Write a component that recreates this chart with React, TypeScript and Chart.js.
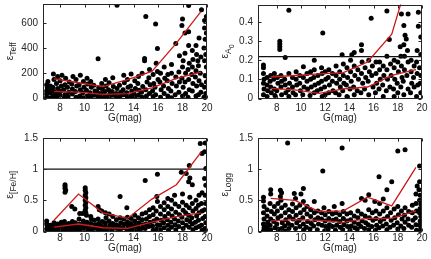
import React, { useEffect, useRef } from "react";
import { Chart, registerables } from "chart.js";
Chart.register(...registerables);

const FONT = '"Liberation Sans", Arial, Helvetica, sans-serif';
const AXIS_COLOR = "#262626";
const RED = "#cc1a1a";

const xTicks = [8, 10, 12, 14, 16, 18, 20];
const xTitle = "G(mag)";
const binCenters = [7.5, 9.5, 11.5, 13.5, 15.5, 17.5, 19.5];

// ---- Teff panel ----
const teffTicks = [0, 200, 400, 600];
const teffUpper = [155, 125, 95, 150, 215, 440, 690];
const teffLower = [55, 50, 32, 38, 85, 160, 210];
const teffPoints = [
  [6.9,10],[6.9,35],[6.9,60],[6.95,85],[6.9,110],[7.0,135],[7.2,5],[7.2,45],[7.25,75],[7.2,100],[7.45,20],[7.5,55],[7.4,90],[7.5,150],[7.45,195],[7.7,10],[7.75,40],[7.8,80],[7.7,120],[7.8,175],[8.0,25],[8.05,60],[8.1,100],[8.0,140],[8.15,185],[8.35,5],[8.4,30],[8.3,70],[8.4,110],[8.45,160],[8.65,15],[8.7,50],[8.6,90],[8.75,130],[9.0,35],[9.0,75],[8.95,115],[9.05,175],[9.3,10],[9.25,55],[9.35,100],[9.3,150],[9.6,20],[9.65,70],[9.55,110],[9.65,185],[9.9,5],[9.85,45],[9.95,90],[9.9,135],[10.2,20],[10.15,65],[10.25,115],[10.2,160],[10.5,10],[10.45,45],[10.55,90],[10.5,135],[10.8,25],[10.85,60],[10.75,105],[11.1,15],[11.05,50],[11.15,85],[11.1,315],[11.4,5],[11.35,40],[11.45,75],[11.4,120],[11.7,20],[11.65,55],[11.75,100],[11.7,150],[12.0,10],[12.05,35],[11.95,70],[12.0,125],[12.3,25],[12.25,55],[12.35,95],[12.3,165],[12.6,5],[12.6,40],[12.65,80],[12.65,740],[12.9,15],[12.95,50],[12.85,105],[13.2,30],[13.15,70],[13.25,125],[13.2,185],[13.5,10],[13.45,45],[13.55,90],[13.5,150],[13.8,20],[13.85,60],[13.75,100],[13.8,195],[14.1,5],[14.05,35],[14.15,80],[14.1,140],[14.4,25],[14.45,65],[14.35,120],[14.4,175],[14.7,10],[14.65,50],[14.75,95],[14.7,200],[14.9,300],[14.9,318],[15.0,650],[15.05,20],[15.0,70],[15.1,130],[15.3,40],[15.35,110],[15.25,165],[15.3,230],[15.6,15],[15.55,60],[15.65,120],[15.6,190],[15.8,592],[15.85,280],[15.8,30],[15.75,90],[15.95,397],[16.0,150],[15.95,215],[16.2,10],[16.25,70],[16.15,130],[16.2,200],[16.5,40],[16.45,100],[16.55,160],[16.5,250],[16.8,20],[16.85,80],[16.75,140],[16.8,190],[17.1,5],[17.05,60],[17.15,120],[17.1,200],[17.1,270],[17.45,437],[17.4,30],[17.5,100],[17.45,170],[17.7,50],[17.75,130],[17.7,210],[17.75,340],[18.0,630],[17.95,580],[18.0,20],[18.05,90],[17.95,160],[18.0,250],[18.05,300],[18.2,520],[18.25,40],[18.2,130],[18.25,200],[18.2,360],[18.5,738],[18.5,530],[18.45,10],[18.55,70],[18.5,150],[18.45,230],[18.55,280],[18.5,420],[18.8,380],[18.8,60],[18.85,120],[18.75,190],[18.8,250],[18.85,310],[19.1,420],[19.1,20],[19.15,100],[19.05,170],[19.1,220],[19.15,350],[19.3,30],[19.35,140],[19.3,260],[19.25,300],[19.35,480],[19.55,704],[19.5,50],[19.55,110],[19.45,200],[19.5,330],[19.8,620],[19.8,560],[19.85,470],[19.75,400],[19.8,300],[19.85,180],[19.8,90],[19.75,10],[19.95,650],[19.95,520],[19.9,350],[19.95,250],[19.95,130],[19.9,40]
];

// ---- A0 panel ----
const a0Ticks = [0, 0.1, 0.2, 0.3, 0.4];
const a0Threshold = 0.218;
const a0Upper = [0.112, 0.12, 0.128, 0.135, 0.19, 0.335, 0.76];
const a0Lower = [0.053, 0.045, 0.027, 0.05, 0.06, 0.12, 0.15];
const a0Points = [
  [6.9,0.175],[6.9,0.16],[6.9,0.13],[6.95,0.1],[6.9,0.08],[6.95,0.05],[6.9,0.02],[7.2,0.11],[7.2,0.07],[7.25,0.04],[7.2,0.01],[7.5,0.12],[7.45,0.09],[7.5,0.06],[7.55,0.03],[7.8,0.13],[7.75,0.1],[7.8,0.05],[7.85,0.015],[8.05,0.11],[8.1,0.08],[8.0,0.04],[8.25,0.298],[8.25,0.284],[8.25,0.27],[8.25,0.256],[8.35,0.12],[8.4,0.09],[8.35,0.06],[8.4,0.02],[8.7,0.214],[8.65,0.1],[8.7,0.07],[8.75,0.03],[9.0,0.46],[9.0,0.13],[9.05,0.08],[8.95,0.045],[9.0,0.01],[9.3,0.11],[9.3,0.06],[9.35,0.03],[9.6,0.14],[9.6,0.1],[9.65,0.07],[9.55,0.02],[9.9,0.12],[9.9,0.08],[9.95,0.04],[10.2,0.165],[10.2,0.11],[10.25,0.06],[10.15,0.02],[10.5,0.13],[10.5,0.09],[10.55,0.05],[10.8,0.14],[10.8,0.1],[10.85,0.06],[10.75,0.015],[11.1,0.2],[11.1,0.15],[11.05,0.11],[11.15,0.07],[11.1,0.03],[11.4,0.12],[11.45,0.08],[11.35,0.04],[11.7,0.16],[11.75,0.13],[11.7,0.09],[11.65,0.05],[11.75,0.01],[11.8,0.342],[12.0,0.14],[12.05,0.1],[11.95,0.06],[12.0,0.02],[12.3,0.15],[12.25,0.11],[12.35,0.07],[12.3,0.03],[12.6,0.13],[12.6,0.09],[12.65,0.04],[12.9,0.17],[12.9,0.12],[12.95,0.08],[12.85,0.03],[13.2,0.14],[13.2,0.1],[13.25,0.06],[13.15,0.02],[13.4,0.228],[13.5,0.18],[13.5,0.12],[13.55,0.08],[13.45,0.04],[13.8,0.16],[13.85,0.11],[13.75,0.07],[13.8,0.01],[14.2,0.228],[14.1,0.2],[14.1,0.14],[14.15,0.09],[14.05,0.05],[14.4,0.24],[14.4,0.17],[14.45,0.12],[14.35,0.06],[14.4,0.02],[14.7,0.15],[14.75,0.1],[14.65,0.04],[15.0,0.28],[15.0,0.25],[15.05,0.19],[15.0,0.13],[15.1,0.08],[14.95,0.03],[15.3,0.16],[15.35,0.11],[15.25,0.05],[15.6,0.2],[15.65,0.14],[15.55,0.09],[15.6,0.02],[15.8,0.418],[15.9,0.17],[15.85,0.12],[15.95,0.06],[16.2,0.19],[16.2,0.13],[16.25,0.08],[16.15,0.03],[16.5,0.19],[16.5,0.15],[16.55,0.1],[16.45,0.05],[16.8,0.17],[16.85,0.12],[16.75,0.07],[16.8,0.01],[17.3,0.307],[17.1,0.456],[17.1,0.22],[17.1,0.15],[17.15,0.1],[17.05,0.04],[17.4,0.18],[17.45,0.12],[17.35,0.06],[17.7,0.2],[17.7,0.16],[17.75,0.1],[17.65,0.05],[17.7,0.01],[18.2,0.27],[18.0,0.19],[18.05,0.14],[17.95,0.08],[18.0,0.03],[18.3,0.44],[18.25,0.22],[18.3,0.17],[18.35,0.11],[18.25,0.06],[18.85,0.44],[18.5,0.38],[18.6,0.33],[18.7,0.31],[18.5,0.28],[18.55,0.22],[18.55,0.15],[18.45,0.09],[18.5,0.02],[18.8,0.25],[18.85,0.19],[18.75,0.12],[18.85,0.05],[19.1,0.2],[19.1,0.14],[19.15,0.08],[19.05,0.03],[19.35,0.17],[19.3,0.11],[19.35,0.06],[19.7,0.45],[19.6,0.25],[19.55,0.19],[19.6,0.13],[19.65,0.07],[19.55,0.01],[19.7,0.377],[19.9,0.32],[19.9,0.23],[19.8,0.16],[19.9,0.12],[19.85,0.08],[19.9,0.03]
];

// ---- [Fe/H] panel ----
const halfTicks = [0, 0.5, 1, 1.5];
const fehThreshold = 1;
const fehUpper = [0.18, 0.6, 0.3, 0.21, 0.52, 0.75, 1.27];
const fehLower = [0.07, 0.12, 0.06, 0.05, 0.15, 0.24, 0.3];
const fehPoints = [
  [6.9,0.17],[6.9,0.12],[6.95,0.08],[6.9,0.04],[6.95,0.01],[7.2,0.1],[7.25,0.06],[7.2,0.02],[7.5,0.14],[7.45,0.09],[7.55,0.05],[7.5,0.01],[7.8,0.12],[7.75,0.07],[7.8,0.03],[8.1,0.15],[8.05,0.1],[8.1,0.05],[8.0,0.01],[8.4,0.75],[8.4,0.72],[8.4,0.69],[8.45,0.66],[8.4,0.63],[8.35,0.16],[8.4,0.11],[8.45,0.06],[8.4,0.02],[8.7,0.13],[8.75,0.08],[8.65,0.04],[8.95,0.4],[9.0,0.16],[9.0,0.11],[9.05,0.06],[8.95,0.02],[9.2,0.36],[9.25,0.14],[9.3,0.09],[9.3,0.04],[9.6,0.29],[9.55,0.2],[9.6,0.12],[9.65,0.07],[9.6,0.02],[9.85,0.29],[9.9,0.17],[9.9,0.1],[9.95,0.05],[10.05,0.7],[10.05,0.66],[10.1,0.62],[10.05,0.58],[10.1,0.54],[10.05,0.5],[10.1,0.46],[10.05,0.42],[10.1,0.38],[10.05,0.34],[10.1,0.3],[10.15,0.26],[10.2,0.15],[10.2,0.08],[10.25,0.03],[10.5,0.24],[10.55,0.2],[10.5,0.13],[10.45,0.07],[10.5,0.02],[10.8,0.18],[10.85,0.11],[10.75,0.05],[11.1,0.4],[11.2,0.35],[11.1,0.2],[11.15,0.13],[11.05,0.07],[11.1,0.02],[11.4,0.33],[11.45,0.16],[11.35,0.09],[11.4,0.04],[11.7,0.3],[11.75,0.22],[11.7,0.14],[11.65,0.08],[11.7,0.02],[12.0,0.28],[12.0,0.17],[12.05,0.1],[11.95,0.05],[12.3,0.24],[12.3,0.13],[12.35,0.07],[12.25,0.02],[12.6,0.19],[12.6,0.11],[12.65,0.05],[12.9,0.56],[12.9,0.22],[12.95,0.14],[12.85,0.08],[12.9,0.02],[13.2,0.2],[13.25,0.12],[13.15,0.06],[13.45,0.38],[13.5,0.23],[13.5,0.15],[13.55,0.09],[13.45,0.03],[13.8,0.21],[13.8,0.13],[13.85,0.07],[13.75,0.02],[14.1,0.26],[14.1,0.17],[14.15,0.1],[14.05,0.04],[14.4,0.22],[14.45,0.14],[14.35,0.07],[14.4,0.01],[14.7,0.28],[14.7,0.19],[14.75,0.11],[14.65,0.05],[14.95,0.82],[15.0,0.3],[15.05,0.2],[15.0,0.12],[14.95,0.05],[15.3,0.35],[15.3,0.24],[15.35,0.15],[15.25,0.08],[15.6,0.38],[15.6,0.27],[15.65,0.17],[15.55,0.09],[15.6,0.02],[15.95,0.92],[15.9,0.56],[15.95,0.48],[15.85,0.33],[15.9,0.2],[15.95,0.11],[15.9,0.04],[16.2,0.4],[16.2,0.28],[16.25,0.18],[16.15,0.1],[16.2,0.03],[16.5,0.46],[16.5,0.35],[16.55,0.24],[16.45,0.14],[16.5,0.06],[16.8,0.53],[16.8,0.4],[16.85,0.29],[16.75,0.19],[16.8,0.1],[16.85,0.02],[17.1,0.5],[17.1,0.36],[17.15,0.25],[17.05,0.15],[17.1,0.07],[17.35,0.58],[17.4,0.44],[17.45,0.31],[17.35,0.2],[17.4,0.11],[17.45,0.03],[17.7,0.4],[17.75,0.27],[17.65,0.17],[17.7,0.08],[17.9,0.95],[18.0,0.6],[18.0,0.47],[18.05,0.34],[17.95,0.23],[18.0,0.14],[18.05,0.05],[18.3,0.93],[18.3,0.42],[18.25,0.3],[18.35,0.19],[18.3,0.1],[18.55,1.06],[18.6,0.86],[18.5,0.8],[18.6,0.55],[18.55,0.38],[18.5,0.26],[18.6,0.16],[18.55,0.07],[18.8,0.75],[18.8,0.45],[18.85,0.33],[18.75,0.22],[18.8,0.12],[18.85,0.03],[19.1,0.5],[19.1,0.37],[19.15,0.25],[19.05,0.15],[19.1,0.06],[19.35,0.58],[19.3,0.42],[19.35,0.3],[19.3,0.18],[19.35,0.08],[19.45,1.41],[19.6,1.25],[19.6,0.62],[19.55,0.45],[19.6,0.33],[19.65,0.21],[19.55,0.1],[19.6,0.02],[19.85,1.42],[19.8,1.28],[19.9,1.01],[19.8,0.85],[19.9,0.74],[19.85,0.58],[19.9,0.45],[19.8,0.35],[19.85,0.24],[19.9,0.14],[19.85,0.05]
];

// ---- logg panel ----
const loggUpper = [0.53, 0.5, 0.32, 0.33, 0.55, 0.41, 1.03];
const loggLower = [0.17, 0.19, 0.18, 0.145, 0.21, 0.21, 0.33];
const loggPoints = [
  [6.9,0.55],[6.9,0.49],[6.95,0.4],[6.9,0.3],[6.95,0.2],[6.9,0.12],[6.95,0.06],[6.9,0.01],[7.2,0.35],[7.2,0.25],[7.25,0.15],[7.2,0.08],[7.25,0.02],[7.5,0.67],[7.5,0.6],[7.45,0.45],[7.55,0.32],[7.5,0.2],[7.45,0.1],[7.5,0.03],[7.8,0.4],[7.8,0.28],[7.75,0.16],[7.85,0.06],[8.1,0.45],[8.05,0.33],[8.1,0.22],[8.0,0.12],[8.1,0.04],[8.3,0.66],[8.4,0.62],[8.3,0.56],[8.35,0.5],[8.4,0.38],[8.35,0.25],[8.45,0.14],[8.4,0.05],[8.7,0.42],[8.7,0.3],[8.75,0.19],[8.65,0.09],[8.7,0.01],[8.9,1.42],[9.0,0.35],[9.05,0.24],[8.95,0.13],[9.0,0.05],[9.3,0.44],[9.3,0.32],[9.35,0.2],[9.25,0.1],[9.45,0.61],[9.55,0.53],[9.6,0.38],[9.6,0.26],[9.65,0.14],[9.55,0.05],[9.9,0.42],[9.95,0.3],[9.85,0.18],[9.9,0.08],[10.0,0.6],[10.2,0.69],[10.2,0.48],[10.25,0.35],[10.15,0.22],[10.2,0.12],[10.25,0.03],[10.5,0.4],[10.5,0.28],[10.55,0.16],[10.45,0.07],[10.8,0.35],[10.8,0.24],[10.85,0.13],[10.75,0.04],[11.1,0.48],[11.1,0.3],[11.15,0.19],[11.05,0.09],[11.4,0.33],[11.4,0.22],[11.45,0.12],[11.35,0.03],[11.7,0.3],[11.7,0.2],[11.75,0.1],[11.8,0.97],[11.9,0.38],[12.0,0.27],[12.0,0.17],[12.05,0.08],[11.95,0.01],[12.3,0.32],[12.3,0.21],[12.35,0.11],[12.25,0.04],[12.6,0.28],[12.65,0.18],[12.6,0.08],[12.75,0.4],[12.9,0.3],[12.9,0.2],[12.95,0.1],[12.85,0.02],[13.2,0.27],[13.2,0.16],[13.25,0.07],[13.4,1.34],[13.4,0.45],[13.5,0.32],[13.5,0.21],[13.55,0.11],[13.45,0.03],[13.8,0.28],[13.8,0.17],[13.85,0.08],[14.1,0.3],[14.1,0.19],[14.15,0.09],[14.05,0.02],[14.4,0.25],[14.4,0.15],[14.45,0.06],[14.7,0.33],[14.7,0.22],[14.75,0.12],[14.65,0.04],[15.0,0.53],[15.0,0.28],[15.05,0.17],[14.95,0.08],[15.3,0.5],[15.3,0.25],[15.35,0.14],[15.25,0.05],[15.6,0.59],[15.6,0.35],[15.65,0.22],[15.55,0.11],[15.6,0.03],[15.9,0.3],[15.95,0.18],[15.85,0.08],[16.1,0.48],[16.2,0.33],[16.2,0.21],[16.25,0.1],[16.15,0.02],[16.45,0.88],[16.5,0.45],[16.5,0.28],[16.55,0.16],[16.45,0.06],[16.8,0.52],[16.8,0.33],[16.85,0.2],[16.75,0.09],[17.1,0.67],[17.1,0.38],[17.15,0.24],[17.05,0.12],[17.1,0.03],[17.5,0.8],[17.4,0.3],[17.45,0.18],[17.35,0.07],[17.7,0.36],[17.75,0.22],[17.65,0.1],[18.0,1.29],[18.0,0.4],[18.05,0.27],[17.95,0.14],[18.0,0.04],[18.3,0.33],[18.35,0.2],[18.25,0.09],[18.6,1.31],[18.6,0.38],[18.55,0.26],[18.6,0.15],[18.5,0.05],[18.9,0.32],[18.85,0.2],[18.9,0.1],[19.2,0.42],[19.2,0.3],[19.25,0.18],[19.15,0.07],[19.5,0.6],[19.5,0.45],[19.55,0.33],[19.45,0.22],[19.5,0.11],[19.55,0.02],[19.6,0.73],[19.8,1.05],[19.8,0.8],[19.75,0.67],[19.85,0.58],[19.8,0.5],[19.9,0.44],[19.85,0.37],[19.8,0.3],[19.9,0.24],[19.85,0.17],[19.8,0.1],[19.9,0.04]
];

type TitlePart = { text: string; size: number; shift: number };

interface PanelProps {
  left: number; top: number; width: number; height: number;
  padTop: number; padRight: number; yAxisW: number; xAxisH: number;
  xMin: number; yMax: number; yTicks: number[];
  points: number[][]; upper: number[]; lower: number[];
  hline?: number; title: TitlePart[];
  xLabelPad: number; xTitleOff: number;
}

function fmt(v: number): string {
  return String(Number(v.toFixed(3)));
}

function Panel(p: PanelProps) {
  const ref = useRef<HTMLCanvasElement>(null);
  useEffect(() => {
    const canvas = ref.current;
    if (!canvas) return;
    const framePlugin = {
      id: "frame",
      afterDraw(chart: any) {
        const { ctx, chartArea: a, scales } = chart;
        const xs = scales.x, ys = scales.y;
        ctx.save();
        ctx.strokeStyle = AXIS_COLOR;
        ctx.lineWidth = 1;
        const L = Math.round(a.left) + 0.5, R = Math.round(a.right) - 0.5;
        const T = Math.round(a.top) + 0.5, B = Math.round(a.bottom) - 0.5;
        ctx.strokeRect(L, T, R - L, B - T);
        ctx.beginPath();
        for (const t of xs.ticks) {
          const px = Math.round(xs.getPixelForValue(t.value)) + 0.5;
          ctx.moveTo(px, B); ctx.lineTo(px, B - 3);
          ctx.moveTo(px, T); ctx.lineTo(px, T + 3);
        }
        for (const t of ys.ticks) {
          const py = Math.round(ys.getPixelForValue(t.value)) + 0.5;
          ctx.moveTo(L, py); ctx.lineTo(L + 3, py);
          ctx.moveTo(R, py); ctx.lineTo(R - 3, py);
        }
        ctx.stroke();
        ctx.fillStyle = AXIS_COLOR;
        ctx.font = `10px ${FONT}`;
        ctx.textAlign = "center";
        ctx.textBaseline = "middle";
        ctx.fillText(xTitle, (a.left + a.right) / 2, a.bottom + p.xTitleOff);
        // y title with subscripts
        ctx.translate(10, (a.top + a.bottom) / 2);
        ctx.rotate(-Math.PI / 2);
        const widths = p.title.map((pt) => {
          ctx.font = `${pt.size}px ${FONT}`;
          return ctx.measureText(pt.text).width;
        });
        const total = widths.reduce((s, w) => s + w, 0);
        let x = -total / 2;
        ctx.textAlign = "left";
        ctx.textBaseline = "alphabetic";
        p.title.forEach((pt, i) => {
          ctx.font = `${pt.size}px ${FONT}`;
          ctx.fillText(pt.text, x, pt.shift);
          x += widths[i];
        });
        ctx.restore();
      },
    };
    const datasets: any[] = [
      {
        type: "line",
        data: binCenters.map((x, i) => ({ x, y: p.upper[i] })),
        borderColor: RED, borderWidth: 1.3, pointRadius: 0, fill: false, tension: 0, order: 0,
      },
      {
        type: "line",
        data: binCenters.map((x, i) => ({ x, y: p.lower[i] })),
        borderColor: RED, borderWidth: 1.3, pointRadius: 0, fill: false, tension: 0, order: 0,
      },
    ];
    if (p.hline !== undefined) {
      datasets.push({
        type: "line",
        data: [{ x: p.xMin, y: p.hline }, { x: 20, y: p.hline }],
        borderColor: "#111", borderWidth: 1.2, pointRadius: 0, fill: false, order: 0,
      });
    }
    datasets.push({
      type: "scatter",
      data: p.points.map(([x, y]) => ({ x, y })),
      backgroundColor: "#000", borderWidth: 0, pointRadius: 2.5, order: 1,
    });
    const tickFont = { family: FONT, size: 10 };
    const chart = new Chart(canvas, {
      type: "scatter",
      data: { datasets },
      plugins: [framePlugin],
      options: {
        animation: false,
        responsive: false,
        devicePixelRatio: 1,
        events: [],
        layout: { padding: { top: p.padTop, right: p.padRight, left: 0, bottom: 0 } },
        plugins: { legend: { display: false }, tooltip: { enabled: false } },
        scales: {
          x: {
            type: "linear", min: p.xMin, max: 20,
            grid: { display: false, drawTicks: false },
            border: { display: false },
            ticks: { font: tickFont, color: AXIS_COLOR, padding: p.xLabelPad, maxRotation: 0, autoSkip: false, callback: (v: any) => fmt(Number(v)) },
            afterBuildTicks: (s: any) => { s.ticks = xTicks.map((v) => ({ value: v })); },
            afterFit: (s: any) => { s.height = p.xAxisH; s.paddingLeft = 0; s.paddingRight = 0; s.paddingTop = 0; s.paddingBottom = 0; },
          },
          y: {
            type: "linear", min: 0, max: p.yMax,
            grid: { display: false, drawTicks: false },
            border: { display: false },
            ticks: { font: tickFont, color: AXIS_COLOR, padding: 5, autoSkip: false, callback: (v: any) => fmt(Number(v)) },
            afterBuildTicks: (s: any) => { s.ticks = p.yTicks.map((v) => ({ value: v })); },
            afterFit: (s: any) => { s.width = p.yAxisW; s.paddingLeft = 0; s.paddingRight = 0; s.paddingTop = 0; s.paddingBottom = 0; },
          },
        },
      } as any,
    });
    return () => chart.destroy();
  }, []);
  return (
    <canvas
      ref={ref}
      width={p.width}
      height={p.height}
      style={{ position: "absolute", left: p.left, top: p.top, width: p.width, height: p.height }}
    />
  );
}

export default function App() {
  return (
    <div style={{ position: "fixed", left: 0, top: 0, width: 431, height: 259, background: "#fff", overflow: "hidden" }}>
      <Panel left={0} top={0} width={215} height={130} padTop={4} padRight={8} yAxisW={43} xAxisH={31.5}
        xMin={6.6} yMax={750} yTicks={teffTicks} points={teffPoints} upper={teffUpper} lower={teffLower}
        title={[{ text: "ε", size: 10.5, shift: 3 }, { text: "Teff", size: 8.5, shift: 6 }]}
        xLabelPad={4} xTitleOff={19.5} />
      <Panel left={215} top={0} width={216} height={130} padTop={4.5} padRight={9} yAxisW={43} xAxisH={31.5}
        xMin={6.45} yMax={0.49} yTicks={a0Ticks} points={a0Points} upper={a0Upper} lower={a0Lower} hline={a0Threshold}
        title={[{ text: "ε", size: 10.5, shift: 3 }, { text: "A", size: 8.5, shift: 6 }, { text: "0", size: 7, shift: 8.5 }]}
        xLabelPad={4} xTitleOff={19.5} />
      <Panel left={0} top={130} width={215} height={129} padTop={8} padRight={8} yAxisW={43} xAxisH={27.5}
        xMin={6.6} yMax={1.5} yTicks={halfTicks} points={fehPoints} upper={fehUpper} lower={fehLower} hline={fehThreshold}
        title={[{ text: "ε", size: 10.5, shift: 3 }, { text: "[Fe/H]", size: 8.5, shift: 6 }]}
        xLabelPad={1} xTitleOff={16.5} />
      <Panel left={215} top={130} width={216} height={129} padTop={8} padRight={9} yAxisW={43} xAxisH={27.5}
        xMin={6.45} yMax={1.5} yTicks={halfTicks} points={loggPoints} upper={loggUpper} lower={loggLower}
        title={[{ text: "ε", size: 10.5, shift: 3 }, { text: "Logg", size: 8.5, shift: 6 }]}
        xLabelPad={1} xTitleOff={16.5} />
    </div>
  );
}
